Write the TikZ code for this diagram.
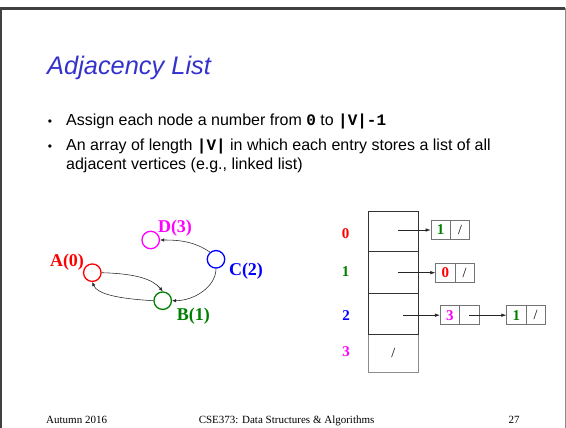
\documentclass[tikz,border=0pt]{standalone}
\usepackage{fontspec}
\setmainfont{Liberation Serif}
\setsansfont{Liberation Sans}
\setmonofont{Liberation Mono}
\usetikzlibrary{arrows.meta}
\definecolor{titleblue}{RGB}{51,51,204}
\definecolor{vred}{RGB}{255,0,0}
\definecolor{vgreen}{RGB}{0,128,0}
\definecolor{vblue}{RGB}{0,0,255}
\definecolor{vmag}{RGB}{255,0,255}
\newcommand{\cd}[1]{{\ttfamily\bfseries #1}}
\begin{document}
\begin{tikzpicture}[x=1pt,y=-1pt,
  vtx/.style={circle,draw,line width=1.3pt,minimum size=17.5pt,inner sep=0pt},
  vlbl/.style={font=\fontsize{18}{18}\selectfont\bfseries,inner sep=0pt,anchor=base},
  gedge/.style={-{Latex[length=4pt,width=3.5pt]},line width=0.55pt,black!85},
  body/.style={anchor=base west,inner sep=0pt,font=\sffamily\fontsize{16}{16}\selectfont},
  bul/.style={anchor=base,inner sep=0pt,font=\sffamily\fontsize{12}{12}\selectfont},
  cell/.style={draw=black!80,line width=0.9pt,minimum width=50pt,inner sep=0pt,font=\fontsize{14}{14}\selectfont},
  lcell/.style={draw=black!55,line width=0.7pt,minimum width=19.3pt,minimum height=19pt,inner sep=0pt,font=\fontsize{15}{15}\selectfont\bfseries},
  slash/.style={font=\fontsize{14}{14}\selectfont},
  rlbl/.style={inner sep=0pt,font=\fontsize{15}{15}\selectfont\bfseries},
  parr/.style={-{Latex[length=5pt,width=3.5pt]},line width=0.6pt,black!85},
  foot/.style={inner sep=0pt,anchor=base,font=\fontsize{11}{11}\selectfont}
]
\useasboundingbox (0,0) rectangle (566,428);
\fill[white] (0,0) rectangle (566,428);
% frame
\draw[line width=2.3pt,black!75] (1.15,428) -- (1.15,8.5) -- (565.3,8.5);
\draw[line width=0.8pt,black!45] (565.3,8.5) -- (565.3,428);
% title
\node[anchor=base west,inner sep=0pt,font=\sffamily\itshape\fontsize{25.4}{25.4}\selectfont,text=titleblue] (title) at (47,74.5) {Adjacency List};
% bullets
\node[bul] (u1) at (50,126) {•};
\node[body] (t1) at (66,126) {Assign each node a number from \cd{0} to \cd{|V|-1}};
\node[bul] (u2) at (50,150) {•};
\node[body] (t2) at (66,150) {An array of length \cd{|V|} in which each entry stores a list of all};
\node[body] (t3) at (66,169.5) {adjacent vertices (e.g., linked list)};
% graph
\node[vtx,draw=vred] (A) at (92.3,272.7) {};
\node[vtx,draw=vgreen] (B) at (162.7,300.7) {};
\node[vtx,draw=vblue] (C) at (216,259.3) {};
\node[vtx,draw=vmag] (D) at (150.7,240) {};
\node[vlbl,text=vred] (la) at (67,266.7) {A(0)};
\node[vlbl,text=vmag] (ld) at (175,232.5) {D(3)};
\node[vlbl,text=vblue] (lc) at (246,276) {C(2)};
\node[vlbl,text=vgreen] (lb) at (193.3,320.7) {B(1)};
\draw[gedge] (A.east) .. controls +(35,1) and +(-10,-12) .. (B.north);
\draw[gedge] (B.west) .. controls +(-35,-2) and +(5,12) .. (A.south);
\draw[gedge] (C.130) .. controls +(-15,-10) and +(22,0) .. (D.east);
\draw[gedge] (C.south) .. controls +(0,18) and +(22,0) .. (B.east);
% array
\node[cell,draw=black!45,minimum height=38pt] (r3) at (393.3,353.3) {/};
\node[cell,minimum height=40pt] (r0) at (393.3,231.7) {};
\node[cell,minimum height=41.6pt] (r1) at (393.3,272.5) {};
\node[cell,minimum height=41pt] (r2) at (393.3,313.8) {};
\node[rlbl,text=vred] (n0) at (345.7,233.3) {0};
\node[rlbl,text=vgreen] (n1) at (345.7,271.7) {1};
\node[rlbl,text=vblue] (n2) at (346,316) {2};
\node[rlbl,text=vmag] (n3) at (346,351.7) {3};
% lists
\node[lcell,text=vgreen] (l0a) at (440.65,230) {1};
\node[lcell] (l0b) at (459.95,230) {}; \node[slash] at (l0b) {/};
\node[lcell,text=vred] (l1a) at (445.35,272.7) {0};
\node[lcell] (l1b) at (464.65,272.7) {}; \node[slash] at (l1b) {/};
\node[lcell,text=vmag] (l2a) at (449.95,315.2) {3};
\node[lcell] (l2b) at (469.25,315.2) {};
\node[lcell,text=vgreen] (l3a) at (516.35,315.2) {1};
\node[lcell] (l3b) at (535.65,315.2) {}; \node[slash] at (l3b) {/};
\coordinate (p0) at (398.3,230);
\coordinate (p1) at (398.3,272.7);
\coordinate (p2) at (403.3,315.2);
\draw[parr] (p0) -- (l0a.west);
\draw[parr] (p1) -- (l1a.west);
\draw[parr] (p2) -- (l2a.west);
\draw[parr] (l2b.center) -- (l3a.west);
% footer
\node[foot,anchor=base west] (f1) at (46,423) {Autumn 2016};
\node[foot] (f2) at (286.6,423) {CSE373: Data Structures \& Algorithms};
\node[foot] (f3) at (514,423) {27};
\end{tikzpicture}
\end{document}
